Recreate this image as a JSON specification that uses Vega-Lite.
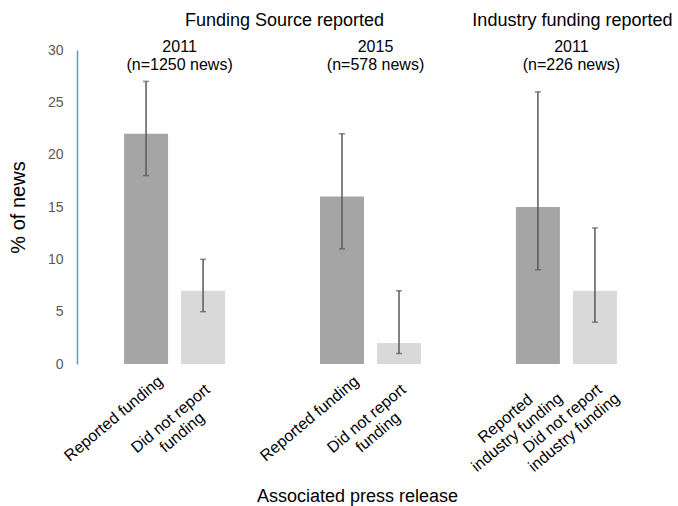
{
  "$schema": "https://vega.github.io/schema/vega-lite/v6.json",
  "width": 587,
  "height": 314,
  "autosize": "none",
  "padding": {"left": 77, "top": 50, "right": 14, "bottom": 142},
  "background": "white",
  "config": {"view": {"stroke": null}, "font": "Liberation Sans", "text": {"font": "Liberation Sans"}},
  "datasets": {
    "bars": [
      {"group": "2011 funding", "cat": "Reported", "value": 22, "lo": 18, "hi": 27, "label": "Reported funding"},
      {"group": "2011 funding", "cat": "Not reported", "value": 7, "lo": 5, "hi": 10, "label": "Did not report\nfunding"},
      {"group": "2015 funding", "cat": "Reported", "value": 16, "lo": 11, "hi": 22, "label": "Reported funding"},
      {"group": "2015 funding", "cat": "Not reported", "value": 2, "lo": 1, "hi": 7, "label": "Did not report\nfunding"},
      {"group": "2011 industry", "cat": "Reported", "value": 15, "lo": 9, "hi": 26, "label": "Reported\nindustry funding"},
      {"group": "2011 industry", "cat": "Not reported", "value": 7, "lo": 4, "hi": 13, "label": "Did not report\nindustry funding"}
    ],
    "years": [
      {"group": "2011 funding", "text": "2011\n(n=1250 news)"},
      {"group": "2015 funding", "text": "2015\n(n=578 news)"},
      {"group": "2011 industry", "text": "2011\n(n=226 news)"}
    ],
    "sectionA": [{"group": "2011 funding", "text": "Funding Source reported"}],
    "sectionB": [{"group": "2011 industry", "text": "Industry funding reported"}]
  },
  "layer": [
    {
      "data": {"name": "bars"},
      "mark": {"type": "bar"},
      "encoding": {
        "x": {
          "field": "group", "type": "nominal",
          "scale": {"domain": ["2011 funding", "2015 funding", "2011 industry"], "paddingInner": 0.418, "paddingOuter": 0.207},
          "axis": {"labels": false, "ticks": false, "domain": false, "title": "Associated press release", "titleFontSize": 18, "titleFontWeight": "normal", "titleColor": "black", "titlePadding": 123, "titleX": 280, "titleFont": "Liberation Sans"}
        },
        "xOffset": {"field": "cat", "type": "nominal", "scale": {"domain": ["Reported", "Not reported"], "paddingInner": 0.228, "paddingOuter": 0.114}},
        "y": {
          "field": "value", "type": "quantitative",
          "scale": {"domain": [0, 30], "nice": false},
          "axis": {"values": [0, 5, 10, 15, 20, 25, 30], "grid": false, "ticks": false, "tickSize": 0, "domainColor": "#6a90d8", "domainWidth": 1.5, "labelColor": "#595959", "labelFontSize": 14, "labelPadding": 14, "labelFont": "Liberation Sans", "title": "% of news", "titleFontSize": 20, "titleFontWeight": "normal", "titleColor": "black", "titlePadding": 19, "titleFont": "Liberation Sans"}
        },
        "color": {"field": "cat", "type": "nominal", "scale": {"domain": ["Reported", "Not reported"], "range": ["#a5a5a5", "#d9d9d9"]}, "legend": null}
      }
    },
    {
      "data": {"name": "bars"},
      "mark": {"type": "rule", "color": "#595959", "strokeWidth": 1.5},
      "encoding": {
        "x": {"field": "group", "type": "nominal"},
        "xOffset": {"field": "cat", "type": "nominal"},
        "y": {"field": "lo", "type": "quantitative"},
        "y2": {"field": "hi"}
      }
    },
    {
      "data": {"name": "bars"},
      "mark": {"type": "tick", "color": "#595959", "size": 6, "thickness": 1.5, "orient": "horizontal"},
      "encoding": {
        "x": {"field": "group", "type": "nominal"},
        "xOffset": {"field": "cat", "type": "nominal"},
        "y": {"field": "lo", "type": "quantitative"}
      }
    },
    {
      "data": {"name": "bars"},
      "mark": {"type": "tick", "color": "#595959", "size": 6, "thickness": 1.5, "orient": "horizontal"},
      "encoding": {
        "x": {"field": "group", "type": "nominal"},
        "xOffset": {"field": "cat", "type": "nominal"},
        "y": {"field": "hi", "type": "quantitative"}
      }
    },
    {
      "data": {"name": "bars"},
      "mark": {"type": "text", "align": "center", "baseline": "middle", "angle": 320, "dx": -60, "dy": 21, "fontSize": 16, "lineBreak": "\n", "lineHeight": 18, "color": "black"},
      "encoding": {
        "x": {"field": "group", "type": "nominal"},
        "xOffset": {"field": "cat", "type": "nominal"},
        "y": {"datum": 0},
        "text": {"field": "label"}
      }
    },
    {
      "data": {"name": "years"},
      "mark": {"type": "text", "align": "center", "baseline": "alphabetic", "dx": 5, "fontSize": 16, "lineBreak": "\n", "lineHeight": 18.5, "color": "black"},
      "encoding": {
        "x": {"field": "group", "type": "nominal"},
        "y": {"datum": 29.84},
        "text": {"field": "text"}
      }
    },
    {
      "data": {"name": "sectionA"},
      "mark": {"type": "text", "align": "center", "baseline": "alphabetic", "dx": 110, "fontSize": 18, "color": "black"},
      "encoding": {
        "x": {"field": "group", "type": "nominal"},
        "y": {"datum": 32.34},
        "text": {"field": "text"}
      }
    },
    {
      "data": {"name": "sectionB"},
      "mark": {"type": "text", "align": "center", "baseline": "alphabetic", "dx": 6, "fontSize": 18, "color": "black"},
      "encoding": {
        "x": {"field": "group", "type": "nominal"},
        "y": {"datum": 32.34},
        "text": {"field": "text"}
      }
    }
  ]
}
